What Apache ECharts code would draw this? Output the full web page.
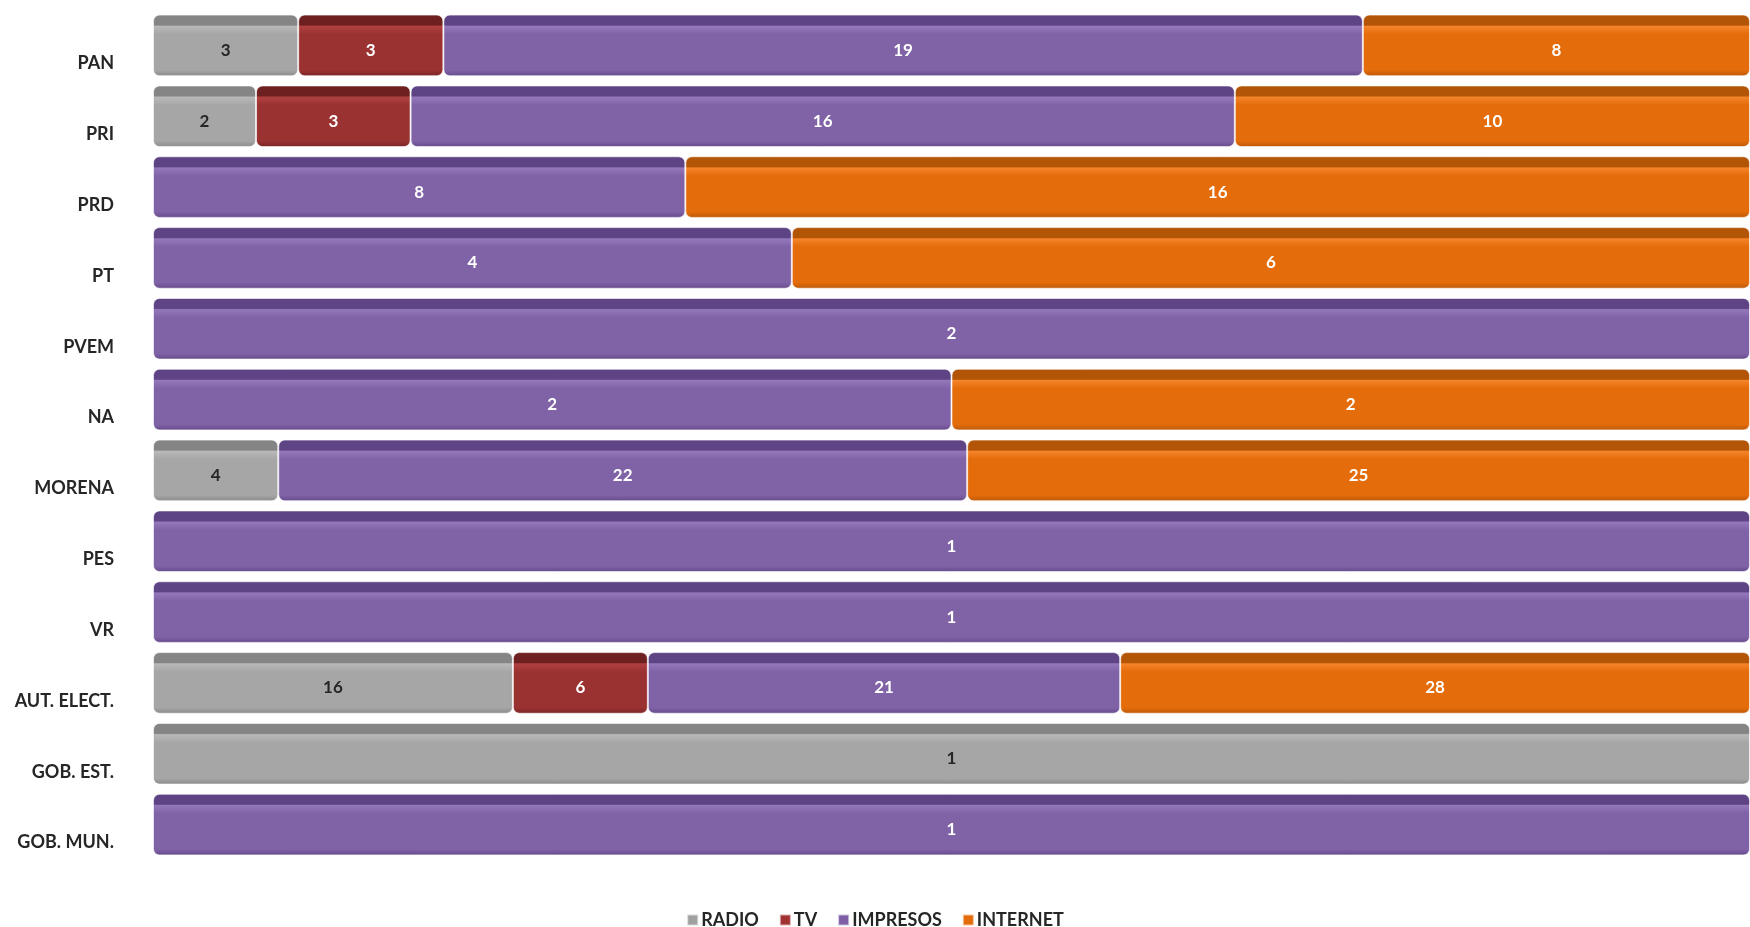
<!DOCTYPE html>
<html><head><meta charset="utf-8">
<script src="https://cdn.jsdelivr.net/npm/echarts@6/dist/echarts.min.js"></script>
<style>html,body{margin:0;padding:0;background:#fff}#c{width:1750px;height:927px}</style>
</head><body><div id="c"></div>
<script>
const categories = ['PAN','PRI','PRD','PT','PVEM','NA','MORENA','PES','VR','AUT. ELECT.','GOB. EST.','GOB. MUN.'];
const radio    = [3, 2, 0, 0, 0, 0, 4, 0, 0, 16, 1, 0];
const tv       = [3, 3, 0, 0, 0, 0, 0, 0, 0, 6, 0, 0];
const impresos = [19, 16, 8, 4, 2, 2, 22, 1, 1, 21, 0, 1];
const internet = [8, 10, 16, 6, 0, 2, 25, 0, 0, 28, 0, 0];
const seriesNames = ['RADIO', 'TV', 'IMPRESOS', 'INTERNET'];

const raw = [radio, tv, impresos, internet];
const totals = categories.map((_, i) => raw.reduce((s, a) => s + a[i], 0));

const palette = [
  {top:'#858585', hi:'#b9b9b9', main:'#a6a6a6', bot:'#8a8a8a', legend:'#a0a0a0', text:'#262626'},
  {top:'#6e2020', hi:'#b04040', main:'#9b3232', bot:'#7a2424', legend:'#a03232', text:'#ffffff'},
  {top:'#5e4485', hi:'#9478bb', main:'#8063a6', bot:'#664a8c', legend:'#7e5fa6', text:'#ffffff'},
  {top:'#b25506', hi:'#f5842a', main:'#e46c0a', bot:'#bb5808', legend:'#e46c0a', text:'#ffffff'}
];

function grad(p) {
  return new echarts.graphic.LinearGradient(0, 0, 0, 1, [
    {offset: 0, color: p.top},
    {offset: 0.17, color: p.top},
    {offset: 0.19, color: p.hi},
    {offset: 0.32, color: p.main},
    {offset: 0.9, color: p.main},
    {offset: 1, color: p.bot}
  ]);
}

const series = raw.map((arr, si) => ({
  name: seriesNames[si],
  type: 'bar',
  stack: 'total',
  barWidth: '87%',
  data: arr.map((v, i) => v > 0 ? v / totals[i] * 100 : null),
  itemStyle: {color: grad(palette[si]), borderRadius: 6, borderColor: 'rgba(255,255,255,0.6)', borderWidth: 1},
  label: {
    show: true,
    position: 'inside',
    offset: [0, 5],
    fontFamily: 'Lato',
    fontWeight: 'bold',
    fontSize: 17,
    color: palette[si].text,
    formatter: (p) => String(arr[p.dataIndex])
  },
  emphasis: {disabled: true}
}));

const chart = echarts.init(document.getElementById('c'), null, {renderer: 'canvas'});
chart.setOption({
  animation: false,
  backgroundColor: '#ffffff',
  grid: {left: 153, right: 0, top: 10, bottom: 67, containLabel: false},
  xAxis: {type: 'value', min: 0, max: 100, show: false},
  yAxis: {
    type: 'category', data: categories, inverse: true,
    axisLine: {show: false}, axisTick: {show: false},
    axisLabel: {
      interval: 0, showMinLabel: true, showMaxLabel: true, hideOverlap: false,
      margin: 39, fontFamily: 'Lato', fontWeight: 'bold', fontSize: 18, color: '#262626',
      formatter: (v) => '{a|' + v + '}',
      rich: {a: {fontFamily: 'Lato', fontWeight: 'bold', fontSize: 18, color: '#262626', padding: [36, 0, 0, 0]}}
    }
  },
  legend: {
    top: 906, left: 'center',
    itemWidth: 11, itemHeight: 11, itemGap: 20,
    icon: 'rect',
    textStyle: {fontFamily: 'Lato', fontWeight: 'bold', fontSize: 18, color: '#262626', padding: [0, 0, 0, -2]},
    data: seriesNames.map((n, i) => ({name: n, itemStyle: {color: palette[i].legend}}))
  },
  series: series
});
</script></body></html>
